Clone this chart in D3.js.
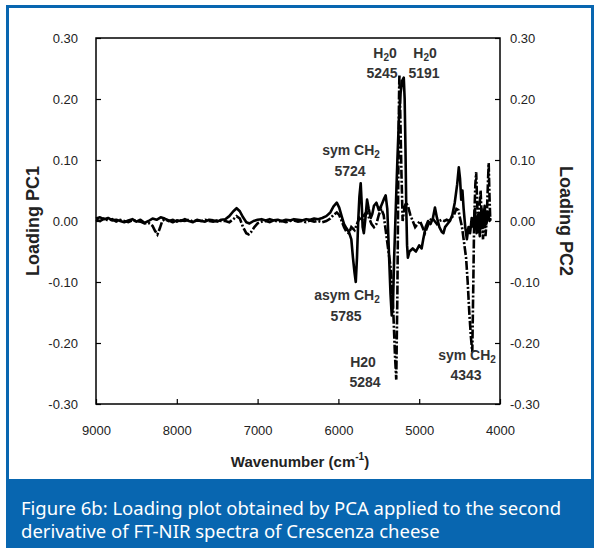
<!DOCTYPE html>
<html>
<head>
<meta charset="utf-8">
<script src="https://cdn.jsdelivr.net/npm/d3@7"></script>
<style>
  body { margin: 0; background: #fff; }
  svg { display: block; }
  .note { font-family: "Liberation Sans", Arial, sans-serif; font-size: 14px; font-weight: bold; fill: #333; text-anchor: middle; }
  .aTitle { font-family: "Liberation Sans", Arial, sans-serif; font-weight: bold; fill: #222; text-anchor: middle; }
  .caption { font-family: "Noto Sans", "Open Sans", sans-serif; font-size: 18.5px; fill: #fff; }
</style>
</head>
<body>
<div id="chart"></div>
<script>
// ---- data ----
var xTicks = [9000, 8000, 7000, 6000, 5000, 4000];
var yTicks = [0.30, 0.20, 0.10, 0.00, -0.10, -0.20, -0.30];

// PC1 loadings (solid line)
var pc1Wave = [9000, 8950, 8900, 8850, 8800, 8750, 8700, 8650, 8600, 8550, 8500, 8450, 8400, 8350, 8300, 8250, 8200, 8150, 8100, 8050,
  8000, 7950, 7900, 7850, 7800, 7750, 7700, 7650, 7600, 7550, 7500, 7450, 7400, 7350, 7300, 7260, 7220, 7180, 7140, 7100,
  7050, 7000, 6950, 6900, 6850, 6800, 6750, 6700, 6650, 6600, 6550, 6500, 6450, 6400, 6350, 6300, 6250, 6200, 6150, 6100,
  6060, 6020, 5990, 5960, 5930, 5900, 5870, 5840, 5820, 5800, 5785, 5770, 5755, 5740, 5724, 5712, 5700, 5685, 5665, 5645,
  5625, 5600, 5580, 5560, 5530, 5500, 5470, 5440, 5415, 5395, 5375, 5355, 5340, 5325, 5310, 5290, 5270, 5250, 5230, 5210,
  5191, 5180, 5170, 5160, 5150, 5140, 5120, 5080, 5040, 5000, 4970, 4950, 4920, 4890, 4860, 4830, 4805, 4780, 4750, 4720,
  4700, 4680, 4650, 4620, 4590, 4560, 4530, 4510, 4495, 4480, 4465, 4450, 4430, 4410, 4390, 4370, 4350, 4330, 4310, 4290,
  4270, 4250, 4230, 4210, 4190, 4170, 4150, 4130, 4120];
var pc1Load = [0.004, 0.006, 0.003, 0.005, 0.001, 0.002, 0.000, -0.002, 0.001, 0.003, -0.001, 0.002, -0.003, 0.000, 0.004, 0.002, 0.006, 0.004, 0.001, -0.002,
  0.001, 0.000, 0.003, 0.000, -0.002, 0.002, 0.000, -0.001, 0.002, 0.001, -0.001, 0.002, 0.003, 0.008, 0.016, 0.021, 0.016, 0.006, -0.002, -0.004,
  0.000, 0.002, 0.003, 0.001, 0.003, 0.001, 0.002, 0.000, 0.002, 0.001, 0.003, 0.002, 0.001, 0.003, 0.002, 0.004, 0.003, 0.005, 0.008, 0.014,
  0.024, 0.030, 0.022, 0.008, -0.005, -0.012, -0.018, -0.030, -0.060, -0.085, -0.100, -0.060, 0.000, 0.040, 0.062, 0.030, -0.010, -0.020, 0.005, 0.035,
  0.020, 0.005, 0.012, 0.025, 0.030, 0.018, 0.025, 0.035, 0.042, 0.020, -0.050, -0.120, -0.155, -0.140, -0.060, 0.020, 0.100, 0.170, 0.210, 0.230,
  0.235, 0.200, 0.120, 0.020, -0.040, -0.060, -0.050, -0.045, -0.050, -0.040, -0.045, -0.030, -0.010, 0.000, -0.005, 0.005, 0.022, 0.005, -0.010, -0.018,
  -0.020, -0.010, -0.005, 0.000, 0.010, 0.030, 0.060, 0.088, 0.070, 0.035, 0.050, 0.020, -0.010, -0.030, -0.010, -0.020, 0.005, -0.010, 0.020, -0.020,
  0.010, -0.025, 0.020, -0.010, 0.025, -0.005, 0.015, 0.000, 0.005];

// PC2 loadings (dash-dot line)
var pc2Wave = [9000, 8950, 8900, 8850, 8800, 8750, 8700, 8650, 8600, 8550, 8500, 8450, 8400, 8350, 8300, 8270, 8240, 8210, 8180, 8150,
  8100, 8050, 8000, 7950, 7900, 7850, 7800, 7750, 7700, 7650, 7600, 7550, 7500, 7450, 7400, 7350, 7300, 7260, 7220, 7180,
  7140, 7110, 7080, 7040, 7000, 6950, 6900, 6850, 6800, 6750, 6700, 6650, 6600, 6550, 6500, 6450, 6400, 6350, 6300, 6250,
  6200, 6150, 6100, 6060, 6020, 5990, 5960, 5930, 5900, 5870, 5840, 5800, 5770, 5740, 5710, 5680, 5650, 5620, 5590, 5560,
  5530, 5500, 5470, 5440, 5410, 5380, 5350, 5320, 5300, 5284, 5270, 5260, 5250, 5245, 5235, 5220, 5205, 5185, 5165, 5140,
  5110, 5080, 5050, 5020, 4990, 4960, 4930, 4900, 4870, 4840, 4810, 4780, 4750, 4720, 4690, 4660, 4630, 4600, 4570, 4540,
  4515, 4495, 4470, 4450, 4420, 4400, 4380, 4360, 4343, 4330, 4320, 4305, 4295, 4285, 4270, 4255, 4240, 4225, 4210, 4195,
  4180, 4165, 4150, 4140, 4130, 4120];
var pc2Load = [0.002, 0.000, 0.004, 0.001, 0.003, -0.001, 0.002, 0.000, -0.002, 0.001, 0.000, -0.001, -0.004, -0.003, -0.008, -0.016, -0.022, -0.012, 0.000, 0.003,
  0.000, 0.002, -0.001, 0.001, 0.000, 0.002, -0.001, 0.001, 0.000, 0.002, 0.000, -0.001, 0.001, 0.000, 0.000, -0.002, 0.003, 0.008, 0.004, -0.010,
  -0.020, -0.022, -0.018, -0.010, -0.004, -0.001, 0.000, -0.002, 0.001, -0.001, 0.000, -0.002, 0.000, 0.001, -0.001, 0.000, -0.002, 0.001, -0.001, 0.000,
  -0.002, 0.000, 0.004, 0.010, 0.014, 0.010, 0.000, -0.010, -0.018, -0.020, -0.010, -0.015, -0.005, 0.005, 0.000, 0.010, 0.015, 0.005, -0.005, -0.010,
  -0.005, 0.010, 0.020, 0.010, -0.020, -0.050, -0.080, -0.150, -0.220, -0.260, -0.120, 0.050, 0.200, 0.240, 0.180, 0.080, 0.000, 0.020, 0.030, 0.025,
  0.010, 0.000, -0.010, -0.005, 0.000, -0.010, -0.020, -0.010, 0.000, 0.005, 0.000, -0.005, 0.000, 0.002, 0.000, 0.002, 0.000, 0.005, 0.010, 0.020,
  0.018, 0.005, -0.010, -0.030, -0.060, -0.100, -0.150, -0.190, -0.215, -0.100, 0.000, 0.060, 0.080, 0.040, -0.020, 0.020, 0.050, 0.000, -0.030, 0.020,
  -0.025, 0.000, 0.060, 0.095, 0.040, 0.000];

var captionLines = ["Figure 6b: Loading plot obtained by PCA applied to the second",
  "derivative of FT-NIR spectra of Crescenza cheese"];

// ---- layout ----
var svgWidth = 600;
var svgHeight = 553;
var blue = "#0866b0";
var plot = { left: 96, right: 500, top: 38, bottom: 404 };

var svg = d3.select("#chart")
  .append("svg")
  .attr("width", svgWidth)
  .attr("height", svgHeight);

// blue frame and caption band
svg.append("rect")
  .attr("x", 7.5).attr("y", 6.5)
  .attr("width", 585).attr("height", 540)
  .attr("fill", "#fff")
  .attr("stroke", blue)
  .attr("stroke-width", 3);

svg.append("rect")
  .attr("x", 6).attr("y", 479)
  .attr("width", 588).attr("height", 69)
  .attr("fill", blue);

svg.append("g")
  .selectAll("text")
  .data(captionLines)
  .enter()
  .append("text")
  .attr("class", "caption")
  .attr("x", 21)
  .attr("y", function(d, i) { return 515 + i * 23; })
  .text(function(d) { return d; });

// scales
var xScale = d3.scaleLinear().domain([9000, 4000]).range([plot.left, plot.right]);
var yScale = d3.scaleLinear().domain([-0.30, 0.30]).range([plot.bottom, plot.top]);

// plain hyphen for negatives, like the original
var fmt = function(d) { return d3.format(".2f")(d).replace("\u2212", "-"); };

function styleTicks(g) {
  g.select(".domain").remove();
  g.selectAll(".tick line").attr("stroke", "#000").attr("stroke-width", 1.2);
  g.selectAll(".tick text")
    .attr("font-family", "Liberation Sans, Arial, sans-serif")
    .attr("font-size", 13)
    .attr("fill", "#222");
}

// axes, ticks pointing into the plot
svg.append("g")
  .attr("transform", "translate(0," + plot.bottom + ")")
  .call(d3.axisBottom(xScale).tickValues(xTicks).tickFormat(d3.format("d")).tickSizeInner(-5).tickSizeOuter(0).tickPadding(22))
  .call(styleTicks);

svg.append("g")
  .attr("transform", "translate(" + plot.left + ",0)")
  .call(d3.axisLeft(yScale).tickValues(yTicks).tickFormat(fmt).tickSizeInner(-5).tickSizeOuter(0).tickPadding(18))
  .call(styleTicks);

svg.append("g")
  .attr("transform", "translate(" + plot.right + ",0)")
  .call(d3.axisRight(yScale).tickValues(yTicks).tickFormat(fmt).tickSizeInner(-5).tickSizeOuter(0).tickPadding(10))
  .call(styleTicks);

// plot frame
svg.append("rect")
  .attr("x", plot.left).attr("y", plot.top)
  .attr("width", plot.right - plot.left).attr("height", plot.bottom - plot.top)
  .attr("fill", "none")
  .attr("stroke", "#000")
  .attr("stroke-width", 1.5);

// spectra
var line = d3.line()
  .x(function(d) { return xScale(d[0]); })
  .y(function(d) { return yScale(d[1]); });

var pc1 = d3.zip(pc1Wave, pc1Load);
var pc2 = d3.zip(pc2Wave, pc2Load);

svg.append("path")
  .datum(pc2)
  .attr("d", line)
  .attr("fill", "none")
  .attr("stroke", "#000")
  .attr("stroke-width", 2.6)
  .attr("stroke-dasharray", "9,2,2,2");

svg.append("path")
  .datum(pc1)
  .attr("d", line)
  .attr("fill", "none")
  .attr("stroke", "#000")
  .attr("stroke-width", 2.6)
  .attr("stroke-linejoin", "round");

// band annotations
function note(x, y, main, sub, rest) {
  var t = svg.append("text").attr("class", "note").attr("x", x).attr("y", y);
  t.append("tspan").text(main);
  if (sub) {
    t.append("tspan").attr("font-size", "10px").attr("dy", 3).text(sub);
    t.append("tspan").attr("dy", -3).text(rest || "");
  }
}
note(385, 58, "H", "2", "0");
note(382, 78, "5245");
note(425, 58, "H", "2", "0");
note(424, 78, "5191");
note(351, 155, "sym CH", "2");
note(350, 176, "5724");
note(347, 300, "asym CH", "2");
note(346, 321, "5785");
note(363, 367, "H20");
note(365, 387, "5284");
note(467, 360, "sym CH", "2");
note(466, 380, "4343");

// axis titles
svg.append("text")
  .attr("class", "aTitle")
  .attr("font-size", 18)
  .attr("transform", "translate(39,221)rotate(-90)")
  .text("Loading PC1");

svg.append("text")
  .attr("class", "aTitle")
  .attr("font-size", 18)
  .attr("transform", "translate(560,221)rotate(90)")
  .text("Loading PC2");

var xt = svg.append("text")
  .attr("class", "aTitle")
  .attr("font-size", 15)
  .attr("x", 300)
  .attr("y", 467);
xt.append("tspan").text("Wavenumber (cm");
xt.append("tspan").attr("font-size", "10px").attr("dy", -7).text("-1");
xt.append("tspan").attr("dy", 7).text(")");
</script>
</body>
</html>
